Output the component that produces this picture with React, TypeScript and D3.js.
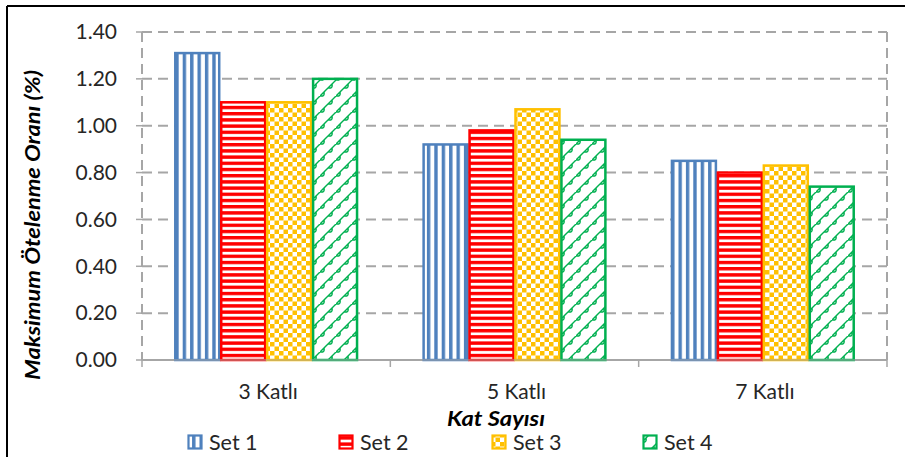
import React from "react";
import * as d3 from "d3";

const categories = ["3 Katlı", "5 Katlı", "7 Katlı"];
const seriesNames = ["Set 1", "Set 2", "Set 3", "Set 4"];
const set1 = [1.31, 0.92, 0.85];
const set2 = [1.10, 0.98, 0.80];
const set3 = [1.10, 1.07, 0.83];
const set4 = [1.20, 0.94, 0.74];
const yTicks = [0, 0.2, 0.4, 0.6, 0.8, 1.0, 1.2, 1.4];

const seriesValues = [set1, set2, set3, set4];
const colors = ["#4F81BD", "#FF0000", "#FFC000", "#00B050"];
const patternIds = ["pVert", "pHoriz", "pCheck", "pShingle"];

const W = 905;
const H = 457;
const M = { left: 142, right: 887, top: 32, bottom: 360 };
const FONT = "Lato, 'Open Sans', sans-serif";

export default function App() {
  const x = d3.scaleBand<string>().domain(categories).range([M.left, M.right]).padding(0);
  const bw = x.bandwidth();
  const xi = d3
    .scaleBand<string>()
    .domain(seriesNames)
    .range([bw * 0.13, bw * 0.87])
    .padding(0);
  const y = d3.scaleLinear().domain([0, 1.4]).range([M.bottom, M.top]);
  const grid = "#A6A6A6";

  const legendX = [187, 338, 491, 642];

  return (
    <div style={{ position: "absolute", left: 0, top: 0 }}>
      <svg width={W} height={H} style={{ display: "block", background: "#fff" }}>
        <defs>
          <pattern id="pVert" patternUnits="userSpaceOnUse" width={7.4} height={10} x={M.left + bw * 0.13 + 1}>
            <rect width={7.4} height={10} fill="#fff" />
            <rect x={0} width={3.4} height={10} fill={colors[0]} />
          </pattern>
          <pattern id="pHoriz" patternUnits="userSpaceOnUse" width={10} height={6.2} y={M.bottom}>
            <rect width={10} height={6.2} fill="#fff" />
            <rect y={0} width={10} height={3.4} fill={colors[1]} />
          </pattern>
          <pattern id="pCheck" patternUnits="userSpaceOnUse" width={9} height={9} y={M.bottom}>
            <rect width={9} height={9} fill="#fff" />
            <rect x={0} y={0} width={4.5} height={4.5} fill={colors[2]} />
            <rect x={4.5} y={4.5} width={4.5} height={4.5} fill={colors[2]} />
          </pattern>
          <pattern id="pShingle" patternUnits="userSpaceOnUse" width={16} height={16}>
            <rect width={16} height={16} fill="#fff" />
            <path
              d="M-2,18 L18,-2 M8,8 Q13,9 12,4 M-8,8 Q-3,9 -4,4 M8,24 Q13,25 12,20 M0,16 Q5,17 4,12 M16,16 Q21,17 20,12 M0,0 Q5,1 4,-4 M16,0 Q21,1 20,-4"
              stroke={colors[3]}
              strokeWidth={1.4}
              fill="none"
            />
          </pattern>
        </defs>

        {/* outer frame */}
        <line x1={7} y1={6} x2={W} y2={6} stroke="#000" strokeWidth={2} />
        <line x1={7} y1={6} x2={7} y2={H} stroke="#000" strokeWidth={2} />

        {/* gridlines */}
        {yTicks.slice(1).map((t) => (
          <line
            key={t}
            x1={M.left}
            x2={M.right}
            y1={y(t)}
            y2={y(t)}
            stroke={grid}
            strokeWidth={2}
            strokeDasharray="10,6"
          />
        ))}
        {/* left axis dashed + right border */}
        <line x1={M.left} x2={M.left} y1={M.top} y2={M.bottom} stroke={grid} strokeWidth={2} strokeDasharray="10,6" />
        <line x1={M.right} x2={M.right} y1={M.top} y2={M.bottom} stroke={grid} strokeWidth={2} strokeDasharray="10,6" />
        {/* y ticks */}
        {yTicks.map((t) => (
          <line key={"t" + t} x1={M.left - 6} x2={M.left} y1={y(t)} y2={y(t)} stroke={grid} strokeWidth={1.5} />
        ))}
        {/* bottom axis */}
        <line x1={M.left} x2={M.right} y1={M.bottom} y2={M.bottom} stroke={grid} strokeWidth={2} />
        {[...categories.map((c) => x(c)!), M.right].map((px, i) => (
          <line key={"xt" + i} x1={px} x2={px} y1={M.bottom} y2={M.bottom + 7} stroke={grid} strokeWidth={1.5} />
        ))}

        {/* bars */}
        {seriesValues.map((vals, si) =>
          vals.map((v, ci) => {
            const bx = x(categories[ci])! + xi(seriesNames[si])!;
            const w = xi.bandwidth();
            return (
              <rect
                key={si + "-" + ci}
                x={bx + 1}
                y={y(v)}
                width={w - 2}
                height={y(0) - y(v)}
                fill={`url(#${patternIds[si]})`}
                stroke={colors[si]}
                strokeWidth={2.5}
              />
            );
          })
        )}
        <line x1={M.left} x2={M.right} y1={M.bottom} y2={M.bottom} stroke={grid} strokeWidth={1} />

        {/* y tick labels */}
        {yTicks.map((t) => (
          <text
            key={"l" + t}
            x={117}
            y={y(t)}
            dy="0.35em"
            textAnchor="end"
            fontFamily={FONT}
            fontSize={21}
            fill="#262626"
          >
            {t.toFixed(2)}
          </text>
        ))}

        {/* x labels */}
        {categories.map((c) => (
          <text
            key={c}
            x={x(c)! + bw / 2 + 2}
            y={392}
            dy="0.35em"
            textAnchor="middle"
            fontFamily={FONT}
            fontSize={21}
            fill="#262626"
          >
            {c}
          </text>
        ))}

        {/* axis titles */}
        <text
          x={496}
          y={419}
          dy="0.35em"
          textAnchor="middle"
          fontFamily={FONT}
          fontSize={20}
          fontWeight="bold"
          fontStyle="italic"
          fill="#000"
          textLength={98}
          lengthAdjust="spacingAndGlyphs"
        >
          Kat Sayısı
        </text>
        <text
          transform={`translate(33,225) rotate(-90)`}
          dy="0.35em"
          textAnchor="middle"
          fontFamily={FONT}
          fontSize={20}
          fontWeight="bold"
          fontStyle="italic"
          fill="#000"
          textLength={310}
          lengthAdjust="spacingAndGlyphs"
        >
          Maksimum Ötelenme Oranı (%)
        </text>

        {/* legend */}
        {seriesNames.map((s, i) => (
          <g key={s} transform={`translate(${legendX[i]},442)`}>
            <rect x={1.5} y={-6.5} width={13} height={13} fill={`url(#${patternIds[i]})`} stroke={colors[i]} strokeWidth={2.2} />
            <text x={22} y={0} dy="0.35em" fontFamily={FONT} fontSize={21.5} fill="#262626">
              {s}
            </text>
          </g>
        ))}
      </svg>
    </div>
  );
}
